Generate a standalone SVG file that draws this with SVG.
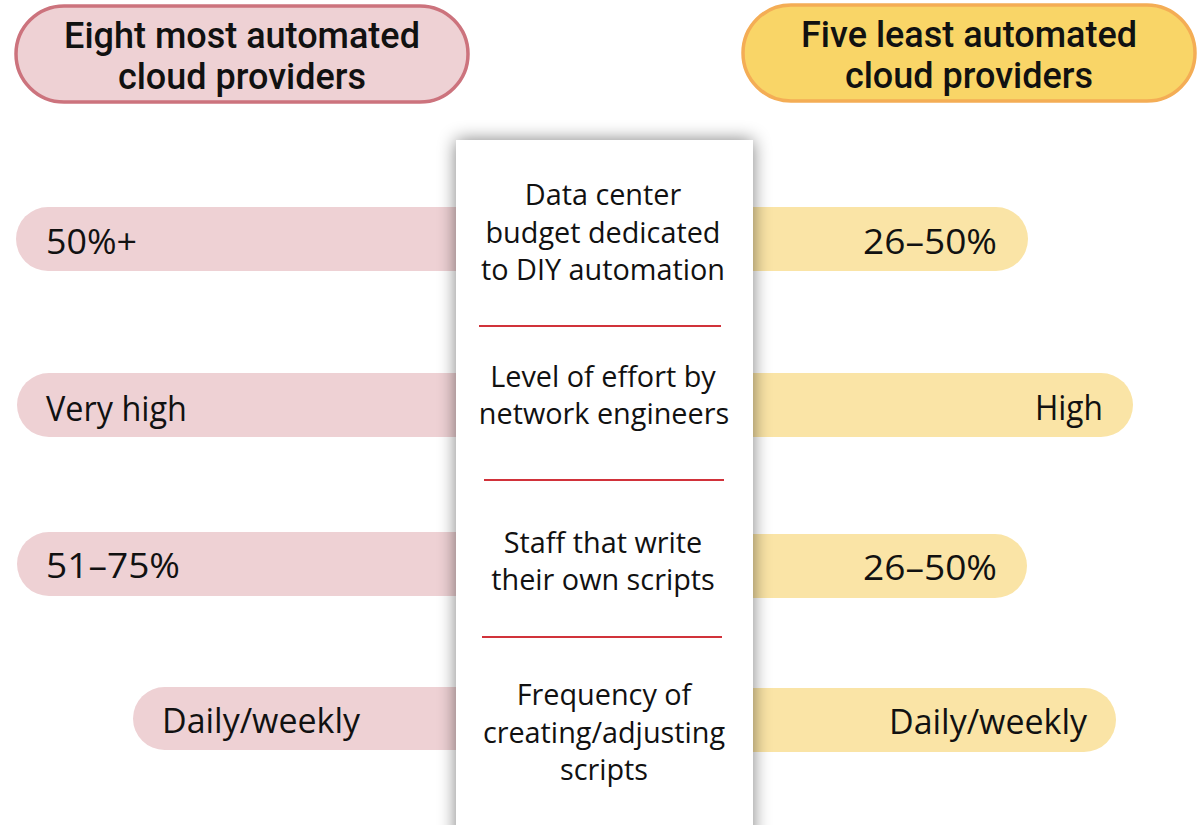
<svg xmlns="http://www.w3.org/2000/svg" width="1202" height="825" viewBox="0 0 1202 825">
<style>
.hdrL{fill:#eed1d4;stroke:#cc737d;stroke-width:3.5}
.hdrR{fill:#f9d567;stroke:#f4ad55;stroke-width:3.5}
.barL{fill:#eed1d4}
.barR{fill:#fae4a6}
.ht{font-family:Roboto,"Liberation Sans",sans-serif;font-weight:500;font-size:36px;fill:#111;text-anchor:middle}
.v{font-family:"Open Sans","Liberation Sans",sans-serif;font-size:34px;fill:#111}
.vr{text-anchor:end}
.c{font-family:"Open Sans","Liberation Sans",sans-serif;font-size:28.8px;fill:#111;text-anchor:middle}
.sep{stroke:#d1323a;stroke-width:2}
</style>
<defs>
<filter id="sh" x="-30%" y="-10%" width="160%" height="120%">
<feGaussianBlur stdDeviation="9"/>
</filter>
</defs>
<rect width="1202" height="825" fill="#fff"/>
<g id="header-left">
<rect class="hdrL" x="16" y="6" width="452" height="96" rx="48"/>
<text class="ht" x="242" y="48">Eight most automated</text>
<text class="ht" x="242" y="89">cloud providers</text>
</g>
<g id="header-right">
<rect class="hdrR" x="743" y="5" width="452" height="96" rx="48"/>
<text class="ht" x="969" y="47">Five least automated</text>
<text class="ht" x="969" y="88">cloud providers</text>
</g>
<g id="bars-left">
<rect class="barL" x="16" y="207" width="480" height="64" rx="32"/>
<rect class="barL" x="17" y="373" width="480" height="64" rx="32"/>
<rect class="barL" x="17" y="532" width="480" height="64" rx="32"/>
<rect class="barL" x="133" y="687" width="380" height="63" rx="31.5"/>
</g>
<g id="bars-right">
<rect class="barR" x="710" y="207" width="318" height="64" rx="32"/>
<rect class="barR" x="710" y="373" width="423" height="64" rx="32"/>
<rect class="barR" x="710" y="534" width="317" height="64" rx="32"/>
<rect class="barR" x="710" y="688" width="406" height="64" rx="32"/>
</g>
<g id="panel">
<rect x="456" y="140" width="297" height="720" fill="#000" opacity="0.5" filter="url(#sh)"/>
<rect x="456" y="140" width="297" height="700" fill="#fff"/>
</g>
<g id="values-left">
<text class="v" x="46" y="254" textLength="91" lengthAdjust="spacingAndGlyphs">50%+</text>
<text class="v" x="46" y="421" textLength="141" lengthAdjust="spacingAndGlyphs">Very high</text>
<text class="v" x="46" y="578" textLength="134" lengthAdjust="spacingAndGlyphs">51–75%</text>
<text class="v" x="162" y="733" textLength="198" lengthAdjust="spacingAndGlyphs">Daily/weekly</text>
</g>
<g id="values-right">
<text class="v vr" x="997" y="254" textLength="134" lengthAdjust="spacingAndGlyphs">26–50%</text>
<text class="v vr" x="1103" y="420" textLength="68" lengthAdjust="spacingAndGlyphs">High</text>
<text class="v vr" x="997" y="580" textLength="134" lengthAdjust="spacingAndGlyphs">26–50%</text>
<text class="v vr" x="1087" y="734" textLength="198" lengthAdjust="spacingAndGlyphs">Daily/weekly</text>
</g>
<g id="labels">
<text class="c" x="603" y="205">Data center</text>
<text class="c" x="603" y="243">budget dedicated</text>
<text class="c" x="603" y="280">to DIY automation</text>
<text class="c" x="603" y="387">Level of effort by</text>
<text class="c" x="604" y="424">network engineers</text>
<text class="c" x="603" y="553">Staff that write</text>
<text class="c" x="603" y="590">their own scripts</text>
<text class="c" x="604" y="705">Frequency of</text>
<text class="c" x="604" y="743">creating/adjusting</text>
<text class="c" x="604" y="780">scripts</text>
</g>
<g id="connectors">
<line class="sep" x1="479" y1="326" x2="721" y2="326"/>
<line class="sep" x1="484" y1="480" x2="724" y2="480"/>
<line class="sep" x1="482" y1="637" x2="722" y2="637"/>
</g>
</svg>
